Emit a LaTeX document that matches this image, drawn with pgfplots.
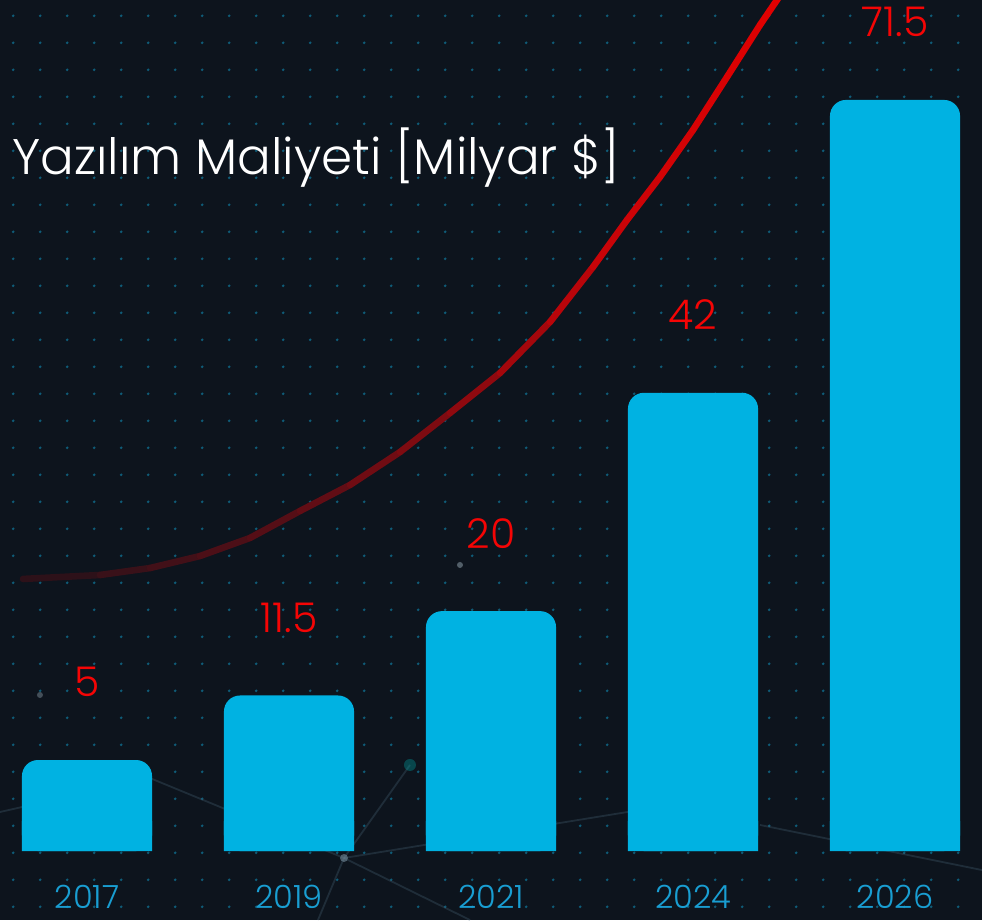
\documentclass[border=0pt]{standalone}
\usepackage{pgfplots}
\pgfplotsset{compat=1.18}
\usepackage{pgfplotstable}
\usepackage{fontspec}
\setmainfont{Poppins}[UprightFont=* Light]
\usetikzlibrary{patterns.meta}
\definecolor{bg}{RGB}{13,20,29}
\definecolor{dotc}{RGB}{15,92,120}
\definecolor{barc}{RGB}{0,178,226}
\definecolor{lblred}{RGB}{245,5,5}
\definecolor{tickc}{RGB}{25,158,210}
\definecolor{netc}{RGB}{80,110,130}
\tikzdeclarepattern{name=griddots, type=uncolored,
  bounding box={(0pt,0pt) and (13.35pt,13.35pt)},
  tile size={(13.35pt,13.35pt)},
  code={\fill (6.675pt,6.675pt) circle (0.75pt);}}

\pgfplotstableread{
x v lab
0 5 5
1 11.5 11.5
2 20 20
3 42 42
4 71.5 71.5
}\costs

\pgfplotstableread{
x y
-0.3168 27.41
0.0644 27.81
0.3119 28.51
0.5594 29.72
0.8069 31.54
1.0545 34.26
1.3020 36.88
1.5495 40.20
1.7970 44.13
2.0446 48.16
2.2921 53.30
2.5050 58.84
2.6733 63.58
2.8366 67.91
3.0000 72.64
3.1683 77.98
3.3317 83.22
3.4158 85.74
3.5050 88.56
}\curve

\begin{document}
\begin{tikzpicture}
\begin{axis}[
  name=ax,
  scale only axis, width=491pt, height=460pt,
  xmin=-0.4307, xmax=4.4307, ymin=-6.95, ymax=85.74,
  axis line style={draw=none},
  axis background/.style={preaction={fill=bg}, pattern=griddots, pattern color=dotc},
  ytick=\empty, xtick={0,...,4}, xticklabels={2017,2019,2021,2024,2026},
  major tick length=0pt,
  xticklabel style={anchor=center, yshift=11.5pt, font=\fontsize{16}{18}\selectfont, text=tickc},
  clip=true,
]
% faint network decoration in the background
\begin{scope}[draw=netc, opacity=0.28, line width=0.9pt]
\draw (rel axis cs:0.3503,0.0674) -- (rel axis cs:0.4175,0.1685);
\draw (rel axis cs:0.3503,0.0674) -- (rel axis cs:0.1527,0.1543) -- (rel axis cs:0,0.1174);
\draw (rel axis cs:0.3503,0.0674) -- (rel axis cs:0.4786,0);
\draw (rel axis cs:0.3503,0.0674) -- (rel axis cs:0.3238,0);
\draw (rel axis cs:0.3503,0.0674) -- (rel axis cs:0.6517,0.1196);
\draw (rel axis cs:0.7739,0.1033) -- (rel axis cs:1,0.0543);
\end{scope}
\fill[netc!80!white, opacity=0.6] (rel axis cs:0.3503,0.0674) circle (2pt);
\fill[teal!70!cyan, opacity=0.35] (rel axis cs:0.4175,0.1685) circle (3pt);
\fill[netc!60!white, opacity=0.5] (rel axis cs:0.4684,0.3859) circle (1.5pt);
\fill[netc!60!white, opacity=0.4] (rel axis cs:0.0407,0.2446) circle (1.5pt);
\addplot[mesh, point meta=x, line width=3.3pt, line cap=round,
  colormap={fade}{rgb255(0cm)=(38,18,26) rgb255(3.6cm)=(90,14,22) rgb255(5.6cm)=(135,10,16) rgb255(7.6cm)=(200,4,8) rgb255(10cm)=(228,0,0)}]
  table[x=x, y=y] {\curve};
\addplot[ybar, bar width=0.644, bar shift=0pt, fill=barc, draw=none, rounded corners=8pt,
  point meta=explicit symbolic, nodes near coords,
  nodes near coords style={anchor=center, yshift=39pt, text=lblred, font=\fontsize{20.5}{22}\selectfont}]
  table[x=x, y expr=\thisrow{v}+4.17, meta=lab] {\costs};
\addplot[ybar, bar width=0.644, bar shift=0pt, fill=barc, draw=none]
  coordinates {(0,3) (1,3) (2,3) (3,3) (4,3)};
\node[anchor=base west, text=white, font=\fontsize{25}{28}\selectfont, inner sep=0pt]
  at (rel axis cs:0.01222,0.8098) {Yazılım Maliyeti [Milyar \$]};
\end{axis}
\pgfresetboundingbox
\path (ax.south west) rectangle (ax.north east);
\end{tikzpicture}
\end{document}
